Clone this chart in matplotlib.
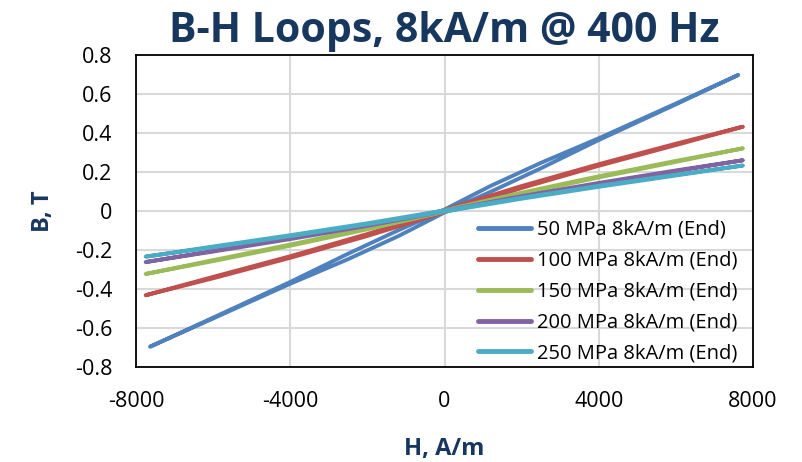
import numpy as np
import matplotlib
matplotlib.use("Agg")
import matplotlib.pyplot as plt

plt.rcParams['font.family'] = ['Open Sans', 'DejaVu Sans']

labels = ['50 MPa 8kA/m (End)', '100 MPa 8kA/m (End)', '150 MPa 8kA/m (End)',
          '200 MPa 8kA/m (End)', '250 MPa 8kA/m (End)']
colors = ['#4F81BD', '#C0504D', '#9BBB59', '#8064A2', '#4BACC6']

# each loop: descending branch then ascending branch
H_50 = [7611, 6000, 4000, 2500, 1200, 200, 0, -200, -1200, -2500, -4000, -6000, -7637,
        -6000, -4000, -2500, -1200, -200, 0, 200, 1200, 2500, 4000, 6000, 7611]
B_50 = [0.697, 0.551, 0.373, 0.247, 0.129, 0.028, 0.007, -0.011, -0.099, -0.219, -0.364, -0.547, -0.696,
        -0.551, -0.373, -0.247, -0.129, -0.028, -0.007, 0.011, 0.099, 0.219, 0.364, 0.547, 0.697]

H_std = [7730, 6000, 4000, 2000, 0, -2000, -4000, -6000, -7750,
         -6000, -4000, -2000, 0, 2000, 4000, 6000, 7730]
B_100 = [0.432, 0.345, 0.240, 0.128, 0.006, -0.118, -0.232, -0.338, -0.432,
         -0.345, -0.240, -0.128, -0.006, 0.118, 0.232, 0.338, 0.432]
B_150 = [0.321, 0.257, 0.178, 0.094, 0.004, -0.088, -0.172, -0.252, -0.323,
         -0.257, -0.178, -0.094, -0.004, 0.088, 0.172, 0.252, 0.321]
B_200 = [0.260, 0.208, 0.144, 0.076, 0.003, -0.071, -0.139, -0.204, -0.262,
         -0.208, -0.144, -0.076, -0.003, 0.071, 0.139, 0.204, 0.260]
B_250 = [0.233, 0.186, 0.129, 0.068, 0.003, -0.063, -0.124, -0.182, -0.234,
         -0.186, -0.129, -0.068, -0.003, 0.063, 0.124, 0.182, 0.233]

series = [(H_50, B_50), (H_std, B_100), (H_std, B_150), (H_std, B_200), (H_std, B_250)]

xticks = [-8000, -4000, 0, 4000, 8000]
yticks = [-0.8, -0.6, -0.4, -0.2, 0, 0.2, 0.4, 0.6, 0.8]
ytick_labels = ['-0.8', '-0.6', '-0.4', '-0.2', '0', '0.2', '0.4', '0.6', '0.8']

navy = '#17375E'

fig = plt.figure(figsize=(8.02, 4.62), dpi=100)
ax = fig.add_axes([136/802, 1-367/462, 617/802, 312/462])

for i, (h, b) in enumerate(series):
    ax.plot(h, b, color=colors[i], lw=2.8, label=labels[i], solid_capstyle='round',
            solid_joinstyle='round', zorder=3+i)

ax.set_xlim(-8000, 8000)
ax.set_ylim(-0.8, 0.8)
ax.set_xticks(xticks)
ax.set_xticklabels([str(t) for t in xticks])
ax.set_yticks(yticks)
ax.set_yticklabels(ytick_labels)
ax.tick_params(length=0, labelsize=15.5, pad=17, colors='black')
ax.grid(True, color='#D9D9D9', lw=1.5, zorder=0)
ax.set_axisbelow(True)
for s in ax.spines.values():
    s.set_color('black')
    s.set_linewidth(1.3)

leg = ax.legend(loc='upper left', bbox_to_anchor=((478-136)/617, (367-220)/312), frameon=False,
                fontsize=14.5, handlelength=2.64, handletextpad=0.3,
                labelspacing=0.54, borderaxespad=0, borderpad=0)
for ln in leg.get_lines():
    ln.set_linewidth(3.5)

fig.text(444/802, 1-42/462, 'B-H Loops, 8kA/m @ 400 Hz', ha='center', va='baseline',
         fontsize=29.5, fontweight='bold', color=navy)
fig.text(43/802, 1-211/462, 'B, T', ha='center', va='center', rotation=90,
         fontsize=17, fontweight='bold', color=navy)
fig.text(444/802, 1-449/462, 'H, A/m', ha='center', va='center',
         fontsize=17, fontweight='bold', color=navy)

fig.savefig('out.png', dpi=100)
